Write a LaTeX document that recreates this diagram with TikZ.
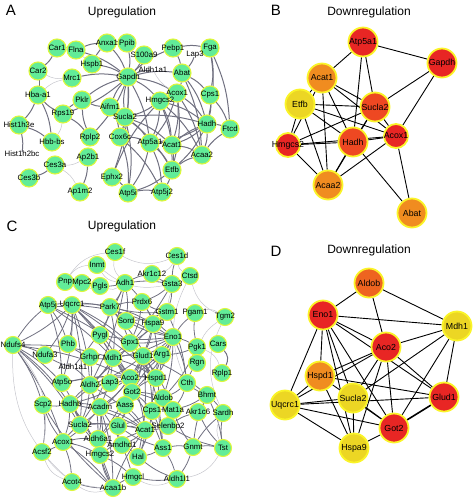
\documentclass[tikz,border=0pt]{standalone}
\usepackage{fontspec}
\setmainfont{Liberation Sans}
\usepackage{xcolor}
\usetikzlibrary{backgrounds}

\definecolor{upgreen}{RGB}{98,236,152}
\definecolor{uprim}{RGB}{222,246,60}
\definecolor{downrim}{RGB}{250,244,40}
\definecolor{downred}{RGB}{232,38,36}
\definecolor{downredor}{RGB}{238,72,34}
\definecolor{downorange}{RGB}{240,140,32}
\definecolor{downorred}{RGB}{238,100,32}
\definecolor{downyellow}{RGB}{236,214,36}
\definecolor{edgegray}{RGB}{112,112,128}
\definecolor{lightgray}{RGB}{198,198,205}

\begin{document}
\begin{tikzpicture}[x=1pt, y=-1pt,
  upnode/.style={circle, fill=upgreen, draw=uprim, line width=1.1pt, minimum size=18pt, inner sep=0pt},
  bare/.style={inner sep=0pt, minimum size=4pt},
  genelabel/.style={font=\fontsize{7.8}{8}\selectfont, inner sep=0pt},
  downnode/.style={circle, draw=downrim, line width=1.8pt, minimum size=29pt, inner sep=0pt},
  downlabel/.style={font=\fontsize{8.8}{9}\selectfont, inner sep=0pt},
  upedge/.style={draw=edgegray, line width=1pt},
  faint/.style={draw=lightgray, line width=0.5pt},
  downedge/.style={draw=black, line width=0.9pt},
  panel/.style={font=\fontsize{15}{15}\selectfont},
  heading/.style={font=\fontsize{12}{12}\selectfont}]

  \useasboundingbox (0,0) rectangle (474,499);

  % Panel letters and titles
  \node[panel] (labA) at (11,10) {A};
  \node[heading] (titA) at (122,12) {Upregulation};
  \node[panel] (labB) at (276,10) {B};
  \node[heading] (titB) at (369,12) {Downregulation};
  \node[panel] (labC) at (12,226) {C};
  \node[heading] (titC) at (122,226) {Upregulation};
  \node[panel] (labD) at (276,251) {D};
  \node[heading] (titD) at (369,250) {Downregulation};

  % Panel A: upregulated network
  \foreach \n/\x/\y in {Car1/57/48, Flna/76/50, Anxa1/107/43, Ppib/127/43, S100a9/144/55,
      Pebp1/173/48, Fga/210/48, Car2/38/71, Hspb1/92/64, Mrc1/72/78, Gapdh/128/77,
      Abat/182/73, Hba-a1/38/95, Pklr/82/100, Acox1/177/93, Cps1/210/95, Aifm1/110/107,
      Hmgcs2/160/101, Rps19/63/114, Sucla2/125/117, Hist1h3e/19/125, Hadh/207/124,
      Ftcd/230/129, Hbb-bs/52/142, Rplp2/90/137, Cox6c/120/137, Atp5a1/150/143,
      Acat1/172/145, Acaa2/202/155, Ap2b1/88/157, Ces3a/55/165, Etfb/172/170,
      Ces3b/29/178, Ephx2/112/177, Ap1m2/80/192, Atp5i/128/193, Atp5j2/162/192}
    \node[upnode, label={[genelabel]center:\n}] (a\n) at (\x,\y) {};
  \foreach \n/\x/\y in {Lap3/195/55, Aldh1a1/153/70, Hist1h2bc/22/154}
    \node[bare, label={[genelabel]center:\n}] (a\n) at (\x,\y) {};

  \begin{scope}[on background layer]
    \foreach \s/\t in {Car1/Flna, Car1/Car2, Car2/Hba-a1, Flna/Anxa1, Anxa1/Ppib, Flna/Gapdh,
        Anxa1/Gapdh, Ppib/Gapdh, S100a9/Gapdh, Hspb1/Gapdh, Hspb1/Anxa1, Mrc1/Gapdh,
        Pklr/Gapdh, Aifm1/Gapdh, Sucla2/Gapdh, Gapdh/Abat, Gapdh/Pebp1, Gapdh/Acox1,
        Gapdh/Hmgcs2, Gapdh/Aldh1a1, Gapdh/Rplp2, Gapdh/Ephx2, Gapdh/Cox6c, Gapdh/Atp5a1,
        Gapdh/Rps19, Pebp1/Fga, Pebp1/Abat, Lap3/Abat, Fga/Cps1, Fga/Hadh, Fga/Ftcd,
        Abat/Acox1, Abat/Hadh, Abat/Acaa2, Abat/Cps1, Acox1/Hmgcs2, Acox1/Hadh, Acox1/Acaa2,
        Acox1/Acat1, Acox1/Etfb, Hmgcs2/Sucla2, Hmgcs2/Hadh, Hmgcs2/Acat1, Hmgcs2/Acaa2,
        Hmgcs2/Atp5a1, Sucla2/Atp5a1, Sucla2/Atp5i, Sucla2/Etfb, Sucla2/Acat1, Sucla2/Cox6c,
        Sucla2/Hadh, Aifm1/Sucla2, Aifm1/Cox6c, Aifm1/Pklr, Hadh/Ftcd, Hadh/Acaa2, Hadh/Acat1,
        Hadh/Etfb, Hadh/Atp5a1, Cps1/Hadh, Cps1/Ftcd, Cox6c/Atp5a1, Cox6c/Atp5i, Cox6c/Atp5j2,
        Atp5a1/Atp5i, Atp5a1/Atp5j2, Atp5a1/Acat1, Atp5a1/Etfb, Acat1/Etfb, Acat1/Acaa2,
        Etfb/Acaa2, Etfb/Atp5i, Etfb/Atp5j2, Atp5i/Atp5j2, Ephx2/Hmgcs2, Ephx2/Atp5i,
        Rps19/Hba-a1, Rps19/Pklr, Rps19/Rplp2, Hba-a1/Hbb-bs, Hist1h3e/Hist1h2bc,
        Hist1h3e/Hbb-bs, Ces3a/Ces3b, Ap2b1/Ap1m2, Rplp2/Pklr, Hba-a1/Hist1h3e,
        Acaa2/Ftcd, Hmgcs2/Etfb, Acox1/Atp5a1, Acat1/Hadh}
      \draw[upedge] (a\s) to[bend left=10] (a\t);
    \foreach \s/\t in {Car2/Mrc1, Hspb1/Car1, Aldh1a1/Acox1, Mrc1/Hba-a1, Ces3a/Ap2b1,
        Lap3/Fga, Ap1m2/Ces3a, Hbb-bs/Rps19}
      \draw[faint] (a\s) to[bend right=15] (a\t);
  \end{scope}

  % Panel B: downregulated network
  \foreach \n/\x/\y/\c in {Atp5a1/363/42/downred, Gapdh/442/63/downred,
      Acat1/322/78/downorange, Etfb/300/104/downyellow, Sucla2/375/107/downredor,
      Hadh/353/142/downredor, Acaa2/328/185/downorange, Abat/412/213/downorange}
    \node[downnode, fill=\c, label={[downlabel]center:\n}] (b\n) at (\x,\y) {};
  \foreach \n/\x/\y in {Hmgcs2/288/145, Acox1/396/136}
    \node[downnode, minimum size=24pt, fill=downred, label={[downlabel]center:\n}] (b\n) at (\x,\y) {};

  \begin{scope}[on background layer]
    \foreach \s/\t in {Atp5a1/Gapdh, Atp5a1/Acat1, Atp5a1/Sucla2, Atp5a1/Hadh, Gapdh/Sucla2,
        Gapdh/Acox1, Acat1/Etfb, Acat1/Sucla2, Acat1/Hadh, Acat1/Acox1, Acat1/Acaa2,
        Acat1/Hmgcs2, Etfb/Sucla2, Etfb/Hadh, Etfb/Acox1, Etfb/Acaa2, Etfb/Hmgcs2,
        Sucla2/Hadh, Sucla2/Hmgcs2, Sucla2/Acox1, Hmgcs2/Hadh, Hmgcs2/Acox1, Hmgcs2/Acaa2,
        Hadh/Acox1, Hadh/Acaa2, Hadh/Abat, Acox1/Acaa2, Acox1/Abat, Sucla2/Acaa2}
      \draw[downedge] (b\s) -- (b\t);
  \end{scope}

  % Panel C: upregulated network
  \foreach \n/\x/\y in {Ces1f/115/252, Ces1d/177/256, Inmt/97/265, Akr1c12/152/274,
      Ctsd/190/276, Pnp/65/282, Mpc2/82/283, Pgls/100/286, Adh1/125/283, Gsta3/172/284,
      Prdx6/142/302, Atp5j/48/305, Uqcrc1/72/305, Park7/110/307, Gstm1/167/312,
      Pgam1/195/313, Tgm2/225/317, Sord/126/321, Hspa9/153/324, Pygl/100/335,
      Eno1/173/337, Ndufs4/13/345, Phb/68/344, Gpx1/130/343, Pgk1/197/347, Cars/218/344,
      Ndufa3/45/355, Grhpr/90/357, Mdh1/113/358, Glud1/143/356, Arg1/162/355, Rgn/197/363,
      Rplp1/222/373, Atp5o/62/383, Aldh2/90/385, Lap3/110/383, Aco2/130/378,
      Hspd1/156/378, Cth/187/383, Got2/132/392, Aldob/163/398, Bhmt/207/395, Scp2/43/405,
      Hadhb/70/404, Acadm/100/407, Aass/125/405, Cps1/152/411, Mat1a/173/410,
      Akr1c6/198/412, Sardh/223/413, Sucla2/80/425, Glul/118/426, Acat1/145/430,
      Selenbp2/168/426, Acox1/63/442, Aldh6a1/98/439, Amdhd1/122/445, Ass1/163/448,
      Gnmt/193/447, Tst/223/448, Acsf2/42/452, Hmgcs2/100/455, Hal/138/457,
      Hmgcl/133/477, Aldh1l1/177/479, Acot4/72/482, Acaa1b/113/488}
    \node[upnode, minimum size=17pt, label={[genelabel]center:\n}] (c\n) at (\x,\y) {};
  \node[bare, label={[genelabel]center:Aldh1a1}] (cAldh1a1) at (73,367) {};

  \begin{scope}[on background layer]
    \foreach \s/\t in {Uqcrc1/Ndufs4, Uqcrc1/Ndufa3, Uqcrc1/Atp5o, Uqcrc1/Atp5j, Uqcrc1/Aco2,
        Uqcrc1/Mdh1, Uqcrc1/Sucla2, Uqcrc1/Got2, Uqcrc1/Hspd1, Uqcrc1/Park7, Uqcrc1/Phb,
        Uqcrc1/Hspa9, Uqcrc1/Aldh2, Uqcrc1/Glud1,
        Ndufs4/Ndufa3, Ndufs4/Atp5o, Ndufs4/Atp5j, Ndufs4/Scp2, Ndufs4/Acox1, Ndufs4/Sucla2,
        Ndufs4/Aco2, Ndufs4/Hadhb, Ndufs4/Mdh1,
        Atp5j/Atp5o, Atp5j/Phb, Atp5j/Hspd1, Atp5j/Aco2, Atp5j/Park7,
        Atp5o/Aco2, Atp5o/Sucla2, Atp5o/Hspd1,
        Eno1/Pgk1, Eno1/Pgam1, Eno1/Gpx1, Eno1/Aldob, Eno1/Mdh1, Eno1/Aco2, Eno1/Got2,
        Eno1/Glud1, Eno1/Hspd1, Eno1/Hspa9, Eno1/Prdx6, Eno1/Park7, Eno1/Pygl, Eno1/Sord,
        Eno1/Arg1, Eno1/Cth,
        Pgk1/Pgam1, Pgk1/Aldob, Pgk1/Arg1, Pgk1/Rgn,
        Adh1/Gsta3, Adh1/Aldh2, Adh1/Aldh1a1, Adh1/Park7, Adh1/Akr1c12, Adh1/Pgls, Adh1/Sord,
        Adh1/Prdx6,
        Gsta3/Gstm1, Gsta3/Ces1d, Gsta3/Akr1c12, Gsta3/Prdx6, Gsta3/Aldh2,
        Gstm1/Prdx6, Gstm1/Hspa9, Gstm1/Sord, Gstm1/Park7, Gstm1/Cth, Gstm1/Gpx1,
        Park7/Prdx6, Park7/Hspa9, Park7/Sord, Park7/Hspd1, Park7/Gpx1, Park7/Mdh1, Park7/Pygl,
        Prdx6/Gpx1, Prdx6/Hspa9, Hspa9/Hspd1, Hspa9/Glud1, Hspa9/Aco2, Hspa9/Mdh1,
        Mdh1/Aco2, Mdh1/Got2, Mdh1/Glud1, Mdh1/Hspd1, Mdh1/Aldh2, Mdh1/Acadm, Mdh1/Sucla2,
        Mdh1/Hadhb, Mdh1/Grhpr, Mdh1/Gpx1,
        Glud1/Got2, Glud1/Aco2, Glud1/Arg1, Glud1/Cps1, Glud1/Ass1, Glud1/Aldh2, Glud1/Hspd1,
        Glud1/Glul, Glud1/Hal, Glud1/Aldh6a1, Glud1/Mat1a, Glud1/Bhmt,
        Aco2/Got2, Aco2/Hspd1, Aco2/Sucla2, Aco2/Acadm, Aco2/Hadhb, Aco2/Aldh2, Aco2/Lap3,
        Aco2/Aass, Aco2/Acat1,
        Got2/Aldob, Got2/Cps1, Got2/Ass1, Got2/Aass, Got2/Acadm, Got2/Mat1a, Got2/Glul,
        Got2/Arg1, Got2/Hspd1,
        Hadhb/Acadm, Hadhb/Acox1, Hadhb/Scp2, Hadhb/Acaa1b, Hadhb/Hmgcs2, Hadhb/Sucla2,
        Hadhb/Aldh2, Hadhb/Acat1,
        Acadm/Acox1, Acadm/Acaa1b, Acadm/Aldh6a1, Acadm/Hmgcs2, Acadm/Acat1, Acadm/Hmgcl,
        Acadm/Aldh2,
        Acox1/Acaa1b, Acox1/Scp2, Acox1/Acot4, Acox1/Acsf2, Acox1/Hmgcs2, Acox1/Sucla2,
        Acox1/Aldh6a1,
        Acaa1b/Hmgcs2, Acaa1b/Hmgcl, Acaa1b/Acot4, Acaa1b/Acat1, Acaa1b/Aldh6a1, Acaa1b/Scp2,
        Hmgcs2/Hmgcl, Hmgcs2/Acat1, Hmgcs2/Aldh6a1,
        Cps1/Ass1, Cps1/Arg1, Cps1/Glul, Cps1/Mat1a, Cps1/Aldob, Cps1/Hal,
        Ass1/Arg1, Ass1/Hal, Ass1/Gnmt, Ass1/Glul, Ass1/Aldh1l1,
        Gnmt/Mat1a, Gnmt/Bhmt, Gnmt/Sardh, Gnmt/Tst, Gnmt/Aldh1l1,
        Bhmt/Mat1a, Bhmt/Sardh, Bhmt/Akr1c6, Bhmt/Cth, Bhmt/Tst,
        Cth/Mat1a, Cth/Rgn, Cth/Aldob,
        Tst/Sardh, Tst/Selenbp2, Tst/Akr1c6,
        Selenbp2/Acat1, Selenbp2/Akr1c6, Selenbp2/Mat1a,
        Aldh1l1/Hmgcl, Aldh1l1/Hal,
        Amdhd1/Hal, Amdhd1/Glul, Amdhd1/Aldh6a1,
        Aldh1a1/Aldh2, Aldh1a1/Ndufa3, Grhpr/Phb, Grhpr/Aldh2, Lap3/Aldh2, Scp2/Acsf2,
        Aldh2/Aldh6a1, Aldh2/Sucla2, Aldh2/Acat1,
        Sucla2/Acat1, Sucla2/Glul, Sucla2/Hmgcs2,
        Glul/Acat1, Acat1/Hal, Acat1/Amdhd1, Aass/Aldh6a1, Aass/Acat1}
      \draw[upedge, line width=0.8pt] (c\s) to[bend left=8] (c\t);
    \foreach \s/\t in {Ces1f/Ces1d, Ces1f/Adh1, Ces1d/Ctsd, Ctsd/Tgm2, Inmt/Gsta3, Inmt/Adh1,
        Pnp/Mpc2, Mpc2/Pgls, Pgls/Adh1, Tgm2/Pgam1, Acsf2/Acot4, Acot4/Acaa1b,
        Aldh1l1/Tst, Sardh/Tst, Ctsd/Gstm1, Ctsd/Cth, Tgm2/Rgn, Akr1c12/Ces1d,
        Acsf2/Ndufs4, Rplp1/Pgk1, Hmgcl/Aldh1l1, Ndufs4/Acot4, Ces1f/Pnp, Tgm2/Sardh,
        Acsf2/Acaa1b, Inmt/Pnp}
      \draw[faint] (c\s) to[bend right=25] (c\t);
    \draw[upedge] (cCars) to[bend left=35] (cRplp1);
  \end{scope}

  % Panel D: downregulated network
  \foreach \n/\x/\y/\c in {Aldob/369/283/downorred, Eno1/323/315/downred,
      Mdh1/457/326/downyellow, Aco2/386/347/downred, Hspd1/320/376/downorange,
      Uqcrc1/285/405/downyellow, Sucla2/353/398/downyellow, Glud1/444/397/downred,
      Got2/394/428/downred, Hspa9/354/448/downyellow}
    \node[downnode, fill=\c, label={[downlabel]center:\n}] (d\n) at (\x,\y) {};

  \begin{scope}[on background layer]
    \foreach \s/\t in {Aldob/Eno1, Aldob/Mdh1, Aldob/Aco2, Eno1/Mdh1, Eno1/Aco2, Eno1/Hspd1,
        Eno1/Uqcrc1, Eno1/Sucla2, Eno1/Got2, Eno1/Glud1, Eno1/Hspa9, Mdh1/Aco2, Mdh1/Glud1,
        Mdh1/Got2, Mdh1/Sucla2, Aco2/Hspd1, Aco2/Uqcrc1, Aco2/Sucla2, Aco2/Glud1, Aco2/Got2,
        Aco2/Hspa9, Hspd1/Uqcrc1, Hspd1/Glud1, Hspd1/Got2, Hspd1/Hspa9, Uqcrc1/Glud1,
        Uqcrc1/Got2, Uqcrc1/Hspa9, Uqcrc1/Sucla2, Sucla2/Hspa9, Got2/Hspa9, Sucla2/Got2}
      \draw[downedge] (d\s) -- (d\t);
    \draw[downedge, line width=1.6pt] (dGot2) -- (dGlud1);
  \end{scope}

\end{tikzpicture}
\end{document}
